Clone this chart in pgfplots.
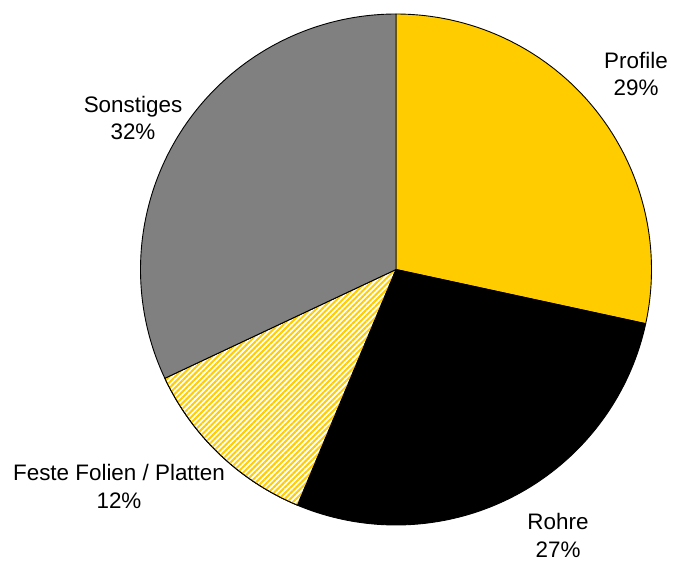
\documentclass[border=0pt]{standalone}
\usepackage{pgfplots}
\pgfplotsset{compat=1.18}
\usepackage{fontspec}
\setmainfont{Liberation Sans}
\usetikzlibrary{patterns.meta}
\definecolor{pieyellow}{HTML}{FFCC00}
\definecolor{piegray}{HTML}{808080}
% shares in percent (clockwise from top)
\def\vProfile{28.4}
\def\vRohre{27.9}
\def\vFolien{11.7}
\def\vSonst{32.0}
\def\cx{396}
\def\cy{269.5}
\def\rr{255.5}
\begin{document}
\begin{tikzpicture}
\pgfmathsetmacro{\aA}{90}
\pgfmathsetmacro{\aB}{\aA-3.6*\vProfile}
\pgfmathsetmacro{\aC}{\aB-3.6*\vRohre}
\pgfmathsetmacro{\aD}{\aC-3.6*\vFolien}
\pgfmathsetmacro{\aE}{\aD-3.6*\vSonst}
\begin{axis}[x=1bp, y=1bp, xmin=0, xmax=673, ymin=0, ymax=563,
  y dir=reverse, hide axis, clip=false, scale only axis,
  every axis plot/.append style={samples=120, line width=0.9bp, draw=black, line join=round}]
\path (axis cs:0,0) rectangle (axis cs:673,563);
\addplot[fill=pieyellow, domain=\aB:\aA, variable=\t]
  ({\cx+\rr*cos(\t)}, {\cy-\rr*sin(\t)}) -- (axis cs:\cx,\cy) -- cycle;
\addplot[fill=black, domain=\aC:\aB, variable=\t]
  ({\cx+\rr*cos(\t)}, {\cy-\rr*sin(\t)}) -- (axis cs:\cx,\cy) -- cycle;
\addplot[fill=white, postaction={pattern={Lines[angle=45, distance=4bp, line width=2bp]}, pattern color=pieyellow}, domain=\aD:\aC, variable=\t]
  ({\cx+\rr*cos(\t)}, {\cy-\rr*sin(\t)}) -- (axis cs:\cx,\cy) -- cycle;
\addplot[fill=piegray, domain=\aE:\aD, variable=\t]
  ({\cx+\rr*cos(\t)}, {\cy-\rr*sin(\t)}) -- (axis cs:\cx,\cy) -- cycle;
\begin{scope}[every node/.style={align=center, font=\fontsize{22.5}{28}\selectfont, inner sep=0pt}]
\node at (axis cs:636,74) {Profile\\29\%};
\node at (axis cs:558,535) {Rohre\\27\%};
\node at (axis cs:119,486) {Feste Folien / Platten\\12\%};
\node at (axis cs:133,118) {Sonstiges\\32\%};
\end{scope}
\end{axis}
\end{tikzpicture}
\end{document}
